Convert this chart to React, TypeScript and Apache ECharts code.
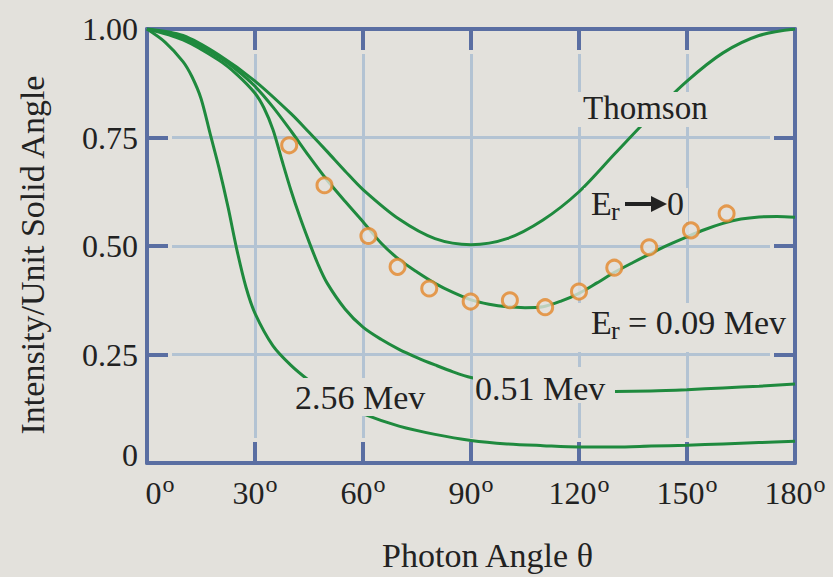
import React, { useEffect, useRef } from "react";
import * as echarts from "echarts";

// ---- data (angle in degrees, relative intensity) ----
const xTickStep = 30;
const yTickStep = 0.25;

const thomson: [number, number][] = [
  [0, 1], [10, 0.985], [20, 0.94], [30, 0.88], [40, 0.805], [45, 0.762], [50, 0.718],
  [55, 0.673], [60, 0.63], [70, 0.562], [80, 0.517], [90, 0.503], [100, 0.517],
  [110, 0.56], [120, 0.625], [130, 0.713], [140, 0.8], [150, 0.88], [160, 0.945],
  [170, 0.985], [180, 1],
];

const mev009: [number, number][] = [
  [0, 1], [10, 0.98], [20, 0.935], [25, 0.905], [30, 0.868], [35, 0.82], [40, 0.765],
  [45, 0.707], [50, 0.652], [55, 0.603], [60, 0.556], [65, 0.507], [70, 0.469], [75, 0.44],
  [80, 0.414], [85, 0.393], [90, 0.376], [95, 0.366], [100, 0.36], [105, 0.358], [110, 0.36],
  [115, 0.373], [120, 0.391], [125, 0.415], [130, 0.44], [135, 0.462], [140, 0.483],
  [145, 0.503], [150, 0.521], [155, 0.538], [160, 0.552], [165, 0.562], [170, 0.567],
  [175, 0.568], [180, 0.566],
];

const mev051: [number, number][] = [
  [0, 1], [10, 0.975], [20, 0.928], [25, 0.895], [30, 0.852], [32.5, 0.818], [35, 0.768],
  [37.5, 0.697], [40, 0.628], [42.5, 0.566], [45, 0.51], [47.5, 0.458], [50, 0.415],
  [55, 0.355], [60, 0.313], [65, 0.285], [70, 0.262], [75, 0.243], [80, 0.226], [85, 0.21],
  [90, 0.197], [100, 0.182], [110, 0.172], [120, 0.167], [130, 0.165], [140, 0.166],
  [150, 0.169], [160, 0.173], [170, 0.177], [180, 0.182],
];

const mev256: [number, number][] = [
  [0, 1], [5, 0.97], [10, 0.925], [12.5, 0.89], [15, 0.84], [17.5, 0.76], [20, 0.68],
  [22.5, 0.59], [25, 0.49], [27.5, 0.405], [30, 0.345], [35, 0.27], [40, 0.225],
  [45, 0.19], [50, 0.16], [55, 0.134], [60, 0.113], [70, 0.085], [80, 0.066],
  [90, 0.052], [100, 0.044], [110, 0.04], [120, 0.037], [130, 0.037], [140, 0.039],
  [150, 0.041], [160, 0.044], [170, 0.047], [180, 0.05],
];

const measured: [number, number][] = [
  [39.5, 0.732], [49.3, 0.64], [61.5, 0.523], [69.6, 0.452], [78.4, 0.402],
  [89.9, 0.372], [100.8, 0.375], [110.6, 0.359], [120, 0.395], [129.8, 0.45],
  [139.5, 0.497], [151.1, 0.536], [161, 0.575],
];

// ---- styles ----
const BG = "#e3e1dc";
const FRAME = "#5a6ea2";
const GRID = "#b3c3d3";
const GREEN = "#1f8a3e";
const ORANGE = "#e3872a";
const INK = "#222222";
const FONT = '"Liberation Serif", "Times New Roman", serif';

const DIGIT_W = 16; // width of one digit at 32px
const SUP_SIZE = 24;
const SUP_W = 12; // width of "o" at 24px
const ZERO_SHIFT = 26;

function xAxisDef(position: string, z: number, kind: "grid" | "mask" | "frame" | "sup"): any {
  return {
    type: "value",
    min: 0,
    max: 180,
    interval: xTickStep,
    position,
    z,
    axisLine: { show: kind === "frame", onZero: false, lineStyle: { color: FRAME, width: 4 } },
    axisTick: {
      show: kind === "mask" || kind === "frame",
      inside: true,
      length: kind === "mask" ? 25 : 21,
      lineStyle: { color: kind === "mask" ? BG : FRAME, width: kind === "mask" ? 7 : 4 },
    },
    splitLine: { show: kind === "grid", lineStyle: { color: GRID, width: 3 } },
    axisLabel: { show: false },
  };
}

function yAxisDef(position: string, z: number, kind: "grid" | "mask" | "frame"): any {
  return {
    type: "value",
    min: 0,
    max: 1,
    interval: yTickStep,
    position,
    z,
    axisLine: { show: kind === "frame", onZero: false, lineStyle: { color: FRAME, width: 4 } },
    axisTick: {
      show: kind !== "grid",
      inside: true,
      length: kind === "mask" ? 25 : 21,
      lineStyle: { color: kind === "mask" ? BG : FRAME, width: kind === "mask" ? 7 : 4 },
    },
    splitLine: { show: kind === "grid", lineStyle: { color: GRID, width: 3 } },
    axisLabel: { show: false },
  };
}

function label(text: string, x: number, y: number, size: number): any {
  return {
    type: "text",
    x,
    y,
    z: 51,
    style: { text, fill: INK, fontSize: size, fontFamily: FONT, align: "left", verticalAlign: "middle" },
  };
}

function box(x: number, y: number, w: number, h: number): any {
  return { type: "rect", z: 50, shape: { x, y, width: w, height: h }, style: { fill: BG } };
}

export default function App() {
  const ref = useRef<HTMLDivElement>(null);

  useEffect(() => {
    if (!ref.current) return;
    const chart = echarts.init(ref.current, undefined, { renderer: "svg" });

    // main x labels: digits, with right padding reserving space for the superscript
    const xGrid = xAxisDef("bottom", 0, "grid");
    xGrid.axisLabel = {
      show: true,
      margin: 14,
      color: INK,
      formatter: (v: number) => (v === 0 ? "{z|0}" : `{n|${v}}`),
      rich: {
        n: { fontSize: 32, lineHeight: 32, fontFamily: FONT, color: INK, padding: [0, SUP_W + 1, 0, 0] },
        z: { fontSize: 32, lineHeight: 32, fontFamily: FONT, color: INK, padding: [0, SUP_W + 1, 0, ZERO_SHIFT] },
      },
    };
    xGrid.name = "Photon Angle θ";
    xGrid.nameLocation = "middle";
    xGrid.nameGap = 75;
    xGrid.nameTextStyle = { fontSize: 34, fontFamily: FONT, color: INK, padding: [0, 0, 0, 33] };

    // superscript "o" labels, laid out to the right of the digits
    const xSup = xAxisDef("bottom", 0, "sup");
    const supStyle = (digits: number, shift: number) => ({
      fontSize: SUP_SIZE,
      lineHeight: SUP_SIZE,
      fontFamily: FONT,
      color: INK,
      padding: [0, 0, 0, shift + digits * DIGIT_W + 1],
    });
    xSup.axisLabel = {
      show: true,
      margin: 9,
      color: INK,
      formatter: (v: number) => (v === 0 ? "{s0|o}" : `{s${String(v).length}|o}`),
      rich: {
        s0: supStyle(1, ZERO_SHIFT),
        s1: supStyle(1, 0),
        s2: supStyle(2, 0),
        s3: supStyle(3, 0),
      },
    };

    const yGrid = yAxisDef("left", 0, "grid");
    yGrid.axisLabel = {
      show: true,
      margin: 9,
      color: INK,
      formatter: (v: number) => (v === 0 ? "{z|0}" : `{n|${v.toFixed(2)}}`),
      rich: {
        n: { fontSize: 32, fontFamily: FONT, color: INK },
        z: { fontSize: 32, fontFamily: FONT, color: INK, padding: [0, 0, 16, 0] },
      },
    };
    yGrid.name = "Intensity/Unit Solid Angle";
    yGrid.nameLocation = "middle";
    yGrid.nameRotate = 90;
    yGrid.nameGap = 98;
    yGrid.nameTextStyle = { fontSize: 34, fontFamily: FONT, color: INK, padding: [0, 18, 0, 0] };

    const lineSeries = (name: string, data: [number, number][]) => ({
      name,
      type: "line",
      data,
      xAxisIndex: 0,
      yAxisIndex: 0,
      smooth: 0.3,
      showSymbol: false,
      symbol: "none",
      z: 3,
      lineStyle: { color: GREEN, width: 3 },
    });

    chart.setOption({
      animation: false,
      backgroundColor: BG,
      grid: { left: 147, right: 38, top: 29, bottom: 111, containLabel: false },
      xAxis: [
        xGrid,
        xAxisDef("bottom", 1, "mask"),
        xAxisDef("top", 1, "mask"),
        xAxisDef("bottom", 2, "frame"),
        xAxisDef("top", 2, "frame"),
        xSup,
      ],
      yAxis: [
        yGrid,
        yAxisDef("left", 1, "mask"),
        yAxisDef("right", 1, "mask"),
        yAxisDef("left", 2, "frame"),
        yAxisDef("right", 2, "frame"),
      ],
      series: [
        lineSeries("Thomson", thomson),
        lineSeries("0.09 Mev", mev009),
        lineSeries("0.51 Mev", mev051),
        lineSeries("2.56 Mev", mev256),
        {
          name: "measured",
          type: "scatter",
          data: measured,
          xAxisIndex: 0,
          yAxisIndex: 0,
          symbol: "circle",
          symbolSize: 15,
          z: 4,
          itemStyle: { color: BG, borderColor: ORANGE, borderWidth: 3 },
        },
      ],
      graphic: [
        box(575, 92, 137, 35),
        label("Thomson", 583, 108, 33),
        box(584, 188, 104, 34),
        label("E", 591, 203, 34),
        label("r", 611, 211, 26),
        { type: "line", z: 51, shape: { x1: 625, y1: 204, x2: 656, y2: 204 }, style: { stroke: INK, lineWidth: 4 } },
        { type: "polygon", z: 51, shape: { points: [[651, 196], [667, 204], [651, 212]] }, style: { fill: INK } },
        label("0", 667, 203, 34),
        box(577, 303, 215, 49),
        label("E", 591, 322, 34),
        label("r", 611, 330, 26),
        label("= 0.09 Mev", 628, 322, 34),
        box(473, 367, 142, 36),
        label("0.51 Mev", 475, 388, 34),
        box(293, 378, 137, 38),
        label("2.56 Mev", 295, 397, 34),
      ],
    });

    return () => chart.dispose();
  }, []);

  return (
    <div
      ref={ref}
      style={{ position: "absolute", left: 0, top: 0, width: 833, height: 577 }}
    />
  );
}
